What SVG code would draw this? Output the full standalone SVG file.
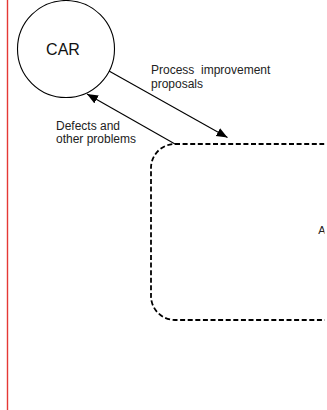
<svg xmlns="http://www.w3.org/2000/svg" width="327" height="410" viewBox="0 0 327 410">
<style>
.lbl{font-family:"Liberation Sans",Arial,sans-serif;font-size:12px;fill:#222}
.big{font-family:"Liberation Sans",Arial,sans-serif;font-size:16px;fill:#111}
.conn{stroke:#000;stroke-width:1.1;fill:none}
</style>
<defs>
<marker id="ah" markerUnits="userSpaceOnUse" markerWidth="12" markerHeight="10" refX="11" refY="4.5" orient="auto">
<path d="M0,0 L11,4.5 L0,9 z" fill="#000"/>
</marker>
<clipPath id="edge"><rect x="0" y="0" width="324.5" height="410"/></clipPath>
</defs>
<rect width="327" height="410" fill="#fff"/>
<line x1="7.5" y1="0" x2="7.5" y2="410" stroke="#e53935" stroke-width="1.4"/>
<g id="car">
<circle cx="66" cy="49" r="48.5" fill="#fff" stroke="#000" stroke-width="1.1"/>
<text class="big" x="63" y="55" text-anchor="middle">CAR</text>
</g>
<g id="process" clip-path="url(#edge)">
<rect x="151" y="144" width="400" height="176" rx="24" ry="24" fill="none" stroke="#000" stroke-width="1.8" stroke-dasharray="5,2.6"/>
<text class="lbl" x="318.3" y="234" style="font-size:11px">A</text>
</g>
<g id="connectors">
<line class="conn" x1="109" y1="71" x2="227.5" y2="137.5" marker-end="url(#ah)"/>
<line class="conn" x1="175" y1="144" x2="87" y2="94" marker-end="url(#ah)"/>
<text class="lbl" x="151" y="74" xml:space="preserve">Process  improvement</text>
<text class="lbl" x="151" y="88">proposals</text>
<text class="lbl" x="56" y="130">Defects and</text>
<text class="lbl" x="56" y="143">other problems</text>
</g>
</svg>
